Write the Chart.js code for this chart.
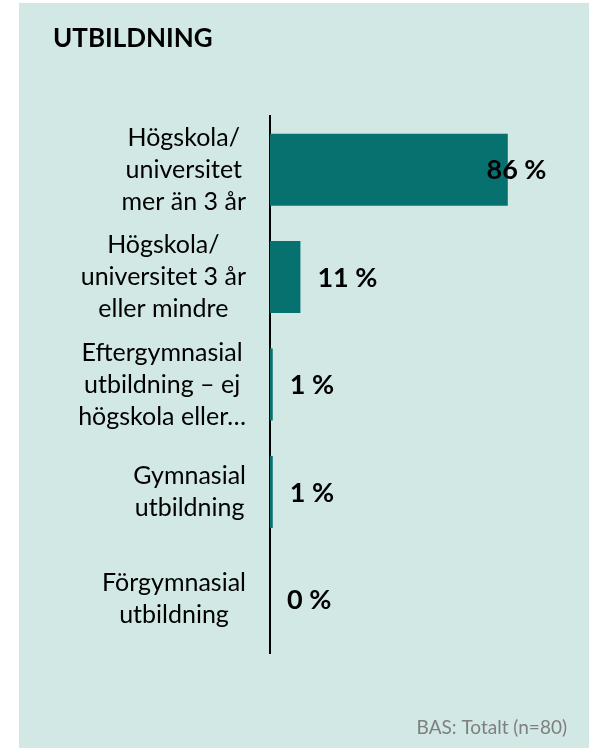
<!DOCTYPE html>
<html>
<head>
<meta charset="utf-8">
<script src="https://cdn.jsdelivr.net/npm/chart.js@4/dist/chart.umd.min.js"></script>
<style>
  html, body { margin: 0; padding: 0; background: #ffffff; }
  #wrap { position: relative; width: 594px; height: 748px; }
</style>
</head>
<body>
<div id="wrap"><canvas id="c" width="594" height="748"></canvas></div>
<script>
const title = "UTBILDNING";
const footnote = "BAS: Totalt (n=80)";
const categories = [
  ["Högskola/", "universitet", "mer än 3 år"],
  ["Högskola/", "universitet 3 år", "eller mindre"],
  ["Eftergymnasial", "utbildning – ej", "högskola eller…"],
  ["Gymnasial", "utbildning"],
  ["Förgymnasial", "utbildning"]
];
const values = [86, 11, 1, 1, 0];
const axisMax = 100;

const FONT = "Lato, 'Open Sans', sans-serif";
const PANEL = "#d1e8e5";
const BAR = "#077170";

const panelPlugin = {
  id: 'panel',
  beforeDraw(chart) {
    const ctx = chart.ctx;
    ctx.save();
    ctx.fillStyle = PANEL;
    ctx.fillRect(19, 3, 570, 745);
    ctx.fillStyle = "#000000";
    ctx.font = "bold 26px " + FONT;
    ctx.textAlign = "left";
    ctx.textBaseline = "alphabetic";
    ctx.fillText(title, 53, 47);
    ctx.fillStyle = "#7f7f7f";
    ctx.font = "19px " + FONT;
    ctx.textAlign = "right";
    ctx.fillText(footnote, 567, 734);
    ctx.restore();
  }
};

const catLabelPlugin = {
  id: 'catLabels',
  afterDraw(chart) {
    const ctx = chart.ctx;
    const yScale = chart.scales.y;
    ctx.save();
    ctx.font = "25px " + FONT;
    ctx.fillStyle = "#000000";
    ctx.textAlign = "center";
    ctx.textBaseline = "middle";
    const lineH = 32;
    const rightEdge = 246;
    categories.forEach((lines, i) => {
      const cy = yScale.getPixelForValue(i);
      const maxW = Math.max(...lines.map(l => ctx.measureText(l).width));
      const cx = rightEdge - maxW / 2;
      const y0 = cy - (lines.length - 1) * lineH / 2;
      lines.forEach((l, j) => ctx.fillText(l, cx, y0 + j * lineH));
    });
    ctx.restore();
  }
};

const valueLabelPlugin = {
  id: 'valueLabels',
  afterDatasetsDraw(chart) {
    const ctx = chart.ctx;
    const meta = chart.getDatasetMeta(0);
    const area = chart.chartArea;
    ctx.save();
    ctx.font = "bold 27px " + FONT;
    ctx.fillStyle = "#000000";
    ctx.textBaseline = "middle";
    meta.data.forEach((bar, i) => {
      const txt = values[i] + " %";
      const w = ctx.measureText(txt).width;
      let x = bar.x + 17;
      if (x + w > area.right) {
        ctx.textAlign = "right";
        x = area.right;
      } else {
        ctx.textAlign = "left";
      }
      ctx.fillText(txt, x, bar.y + 1);
    });
    ctx.restore();
  }
};

new Chart(document.getElementById('c'), {
  type: 'bar',
  data: {
    labels: categories,
    datasets: [{
      data: values,
      backgroundColor: BAR,
      borderWidth: 0,
      barPercentage: 0.67,
      categoryPercentage: 1.0
    }]
  },
  options: {
    indexAxis: 'y',
    responsive: false,
    animation: false,
    devicePixelRatio: 1,
    layout: { padding: { left: 270, right: 47.5, top: 116, bottom: 95 } },
    plugins: {
      legend: { display: false },
      tooltip: { enabled: false },
      title: { display: false }
    },
    scales: {
      x: {
        display: false,
        min: 0,
        max: axisMax
      },
      y: {
        grid: { display: false, drawTicks: false },
        border: { display: true, color: '#000000', width: 2 },
        ticks: { display: false },
        afterFit(s) { s.width = 0; }
      }
    }
  },
  plugins: [panelPlugin, catLabelPlugin, valueLabelPlugin]
});
</script>
</body>
</html>
